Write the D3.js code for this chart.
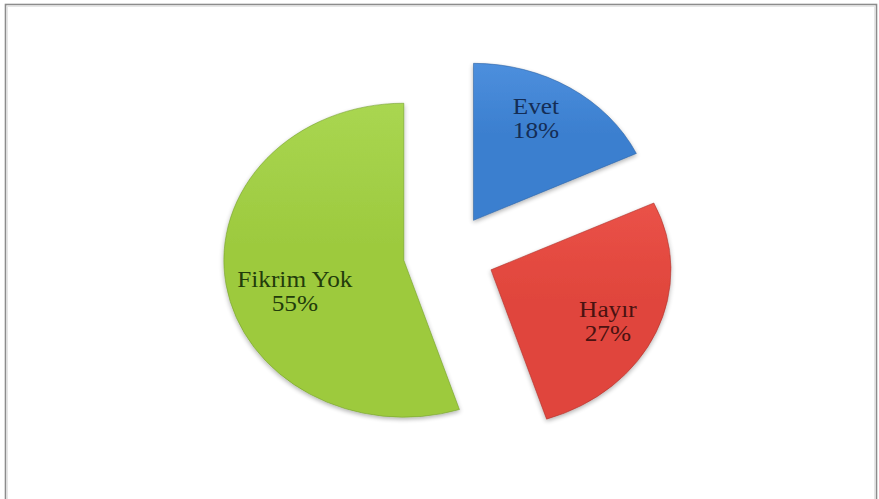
<!DOCTYPE html>
<html>
<head>
<meta charset="utf-8">
<script src="https://cdn.jsdelivr.net/npm/d3@7"></script>
<style>
  html, body { margin: 0; padding: 0; background: #ffffff; }
  svg { display: block; }
  .pie-label { font-family: "Liberation Serif", "Times New Roman", Times, serif; font-size: 23px; }
</style>
</head>
<body>
<svg id="chart" width="879" height="499"></svg>
<script>
// Survey answers and their shares
const categories = ["Evet", "Hayır", "Fikrim Yok"];
const values = [18, 27, 55];
const percentLabels = ["18%", "27%", "55%"];

// Slice styling
const baseColors = ["#3b7fcf", "#e0453c", "#9dca3e"];
const lightColors = ["#4d8fdd", "#ea5248", "#a9d651"];
const edgeColors = ["#2a5f9e", "#a8302a", "#6f9a28"];
const textColors = ["#142d55", "#4a1210", "#223c0b"];

// Layout
const W = 879, H = 499;
const cx = 449, cy = 254;       // pie centre before slices are pulled out
const ry = 157;                 // vertical radius
const rx = 180;                 // horizontal radius
const aspect = rx / ry;
const explode = 0.254;          // pull-out, as a fraction of the radius
const labelRadius = 0.72;       // label distance from slice tip, fraction of radius
const labelNudge = { "Evet": [-7, -7], "Hayır": [-2, 6], "Fikrim Yok": [19, 13] };

const svg = d3.select("#chart");

// Chart frame
svg.append("rect")
  .attr("x", 5.5).attr("y", 4.5)
  .attr("width", 871).attr("height", 520)
  .attr("fill", "#ffffff")
  .attr("stroke", "#8c8c8c")
  .attr("stroke-width", 1.6);
svg.append("rect")
  .attr("x", 7.5).attr("y", 6.5)
  .attr("width", 867).attr("height", 520)
  .attr("fill", "none")
  .attr("stroke", "#e6e6e6")
  .attr("stroke-width", 1);

const rows = categories.map((c, i) => ({ category: c, value: values[i], label: percentLabels[i], i }));

const pie = d3.pie()
  .sort(null)
  .value(d => d.value)
  .startAngle(0)
  .endAngle(2 * Math.PI);

const arc = d3.arc().innerRadius(0).outerRadius(ry);

const arcs = pie(rows);

const defs = svg.append("defs");

// Soft shadow beneath each slice
const shadow = defs.append("filter")
  .attr("id", "sliceShadow")
  .attr("x", "-20%").attr("y", "-20%")
  .attr("width", "140%").attr("height", "140%");
shadow.append("feGaussianBlur").attr("in", "SourceAlpha").attr("stdDeviation", 2.2).attr("result", "blur");
shadow.append("feOffset").attr("in", "blur").attr("dx", 0).attr("dy", 1.5).attr("result", "off");
shadow.append("feComponentTransfer").attr("in", "off").attr("result", "shade")
  .append("feFuncA").attr("type", "linear").attr("slope", 0.3);
const merge = shadow.append("feMerge");
merge.append("feMergeNode").attr("in", "shade");
merge.append("feMergeNode").attr("in", "SourceGraphic");

// Vertical gradient per slice
arcs.forEach(a => {
  const g = defs.append("linearGradient")
    .attr("id", "grad" + a.data.i)
    .attr("x1", 0).attr("y1", 0).attr("x2", 0).attr("y2", 1);
  g.append("stop").attr("offset", "0%").attr("stop-color", lightColors[a.data.i]);
  g.append("stop").attr("offset", "45%").attr("stop-color", baseColors[a.data.i]);
  g.append("stop").attr("offset", "100%").attr("stop-color", baseColors[a.data.i]);
});

const mid = a => (a.startAngle + a.endAngle) / 2;

const pieG = svg.append("g")
  .attr("transform", `translate(${cx},${cy}) scale(${aspect},1)`);

pieG.selectAll("path.slice")
  .data(arcs)
  .join("path")
  .attr("class", "slice")
  .attr("transform", a => {
    const m = mid(a);
    return `translate(${explode * ry * Math.sin(m)},${-explode * ry * Math.cos(m)})`;
  })
  .attr("d", arc)
  .attr("fill", a => `url(#grad${a.data.i})`)
  .attr("stroke", a => edgeColors[a.data.i])
  .attr("stroke-width", 1)
  .attr("stroke-opacity", 0.55)
  .attr("vector-effect", "non-scaling-stroke")
  .attr("filter", "url(#sliceShadow)");

// Labels: category name and share
const labels = svg.append("g")
  .attr("class", "pie-label")
  .attr("text-anchor", "middle");

arcs.forEach(a => {
  const m = mid(a);
  const k = explode + labelRadius;
  const nudge = labelNudge[a.data.category] || [0, 0];
  const x = cx + k * rx * Math.sin(m) + nudge[0];
  const y = cy - k * ry * Math.cos(m) + nudge[1];
  const t = labels.append("text")
    .attr("fill", textColors[a.data.i])
    .attr("transform", `translate(${x},${y}) scale(1.1,1)`);
  t.append("tspan").attr("x", 0).attr("y", -4).text(a.data.category);
  t.append("tspan").attr("x", 0).attr("y", 20).text(a.data.label);
});
</script>
</body>
</html>
